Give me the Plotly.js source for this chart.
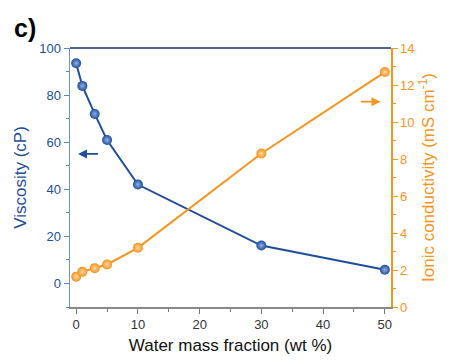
<!DOCTYPE html>
<html><head><meta charset="utf-8">
<script src="https://cdn.plot.ly/plotly-3.0.1.min.js"></script>
<style>html,body{margin:0;padding:0;background:#fff}</style>
</head><body><div id="c" style="width:453px;height:362px"></div>
<script>
const waterFraction = [0, 1, 3, 5, 10, 30, 50];
const viscosity = [93.5, 83.9, 72, 60.9, 42, 16.1, 5.8];
const conductivity = [1.64, 1.9, 2.1, 2.3, 3.2, 8.3, 12.7];

const blue = '#1f4e9a', orange = '#f7941d';
const font = 'Liberation Sans, Arial, sans-serif';

const traces = [
  {x: waterFraction, y: viscosity, type: 'scatter', mode: 'lines+markers', yaxis: 'y',
   line: {color: blue, width: 2},
   marker: {size: 10, color: blue, gradient: {type: 'radial', color: '#8fb0e6'}, line: {width: 0}}},
  {x: waterFraction, y: conductivity, type: 'scatter', mode: 'lines+markers', yaxis: 'y2',
   line: {color: orange, width: 2},
   marker: {size: 10, color: '#f5921a', gradient: {type: 'radial', color: '#fcd9a6'}, line: {width: 0}}}
];

const layout = {
  width: 453, height: 362, showlegend: false,
  margin: {l: 70, r: 62, t: 48, b: 55},
  paper_bgcolor: '#fff', plot_bgcolor: '#fff',
  font: {family: font},
  xaxis: {range: [-1, 51], tickvals: [0, 10, 20, 30, 40, 50], ticks: 'outside', ticklen: 5,
    tickcolor: '#777', showline: true, linecolor: '#888', linewidth: 1.5, showgrid: false, zeroline: false,
    tickfont: {size: 13, color: '#333'},
    minor: {dtick: 5, ticks: 'outside', ticklen: 3, tickcolor: '#777'},
    title: {text: 'Water mass fraction (wt %)', font: {size: 17, color: '#111'}, standoff: 8}},
  yaxis: {range: [-10, 100], tickvals: [0, 20, 40, 60, 80, 100], ticks: 'outside', ticklen: 5,
    tickcolor: '#5b86c5', showline: true, linecolor: '#6a93cc', linewidth: 1.5, showgrid: false, zeroline: false,
    tickfont: {size: 13, color: blue},
    minor: {dtick: 10, ticks: 'outside', ticklen: 3, tickcolor: '#5b86c5'},
    title: {text: 'Viscosity (cP)', font: {size: 17, color: blue}, standoff: 8}},
  yaxis2: {range: [0, 14], tickvals: [0, 2, 4, 6, 8, 10, 12, 14], overlaying: 'y', side: 'right', ticks: 'outside', ticklen: 5,
    tickcolor: orange, showline: true, linecolor: orange, linewidth: 1.5, showgrid: false, zeroline: false,
    tickfont: {size: 13, color: orange},
    minor: {dtick: 1, ticks: 'outside', ticklen: 3, tickcolor: orange},
    title: {text: 'Ionic conductivity (mS cm<sup>-1</sup>)', font: {size: 17, color: orange}, standoff: 8}},
  shapes: [{type: 'line', xref: 'paper', yref: 'paper', x0: 0, x1: 1, y0: 1, y1: 1, line: {color: '#1a2f6b', width: 1.5}}],
  annotations: [
    {text: '<b>c)</b>', xref: 'paper', yref: 'paper', x: -0.18, y: 1.14, xanchor: 'left', yanchor: 'top',
     showarrow: false, font: {size: 25, color: '#000'}},
    {x: 0.3, y: 55, xref: 'x', yref: 'y', ax: 3.8, ay: 55, axref: 'x', ayref: 'y', text: '',
     showarrow: true, arrowhead: 2, arrowsize: 1, arrowwidth: 1.8, arrowcolor: blue},
    {x: 49.3, y: 11.1, xref: 'x', yref: 'y2', ax: 45.9, ay: 11.1, axref: 'x', ayref: 'y2', text: '',
     showarrow: true, arrowhead: 2, arrowsize: 1, arrowwidth: 1.8, arrowcolor: orange}
  ]
};
Plotly.newPlot('c', traces, layout, {displayModeBar: false, staticPlot: true});
</script></body></html>
